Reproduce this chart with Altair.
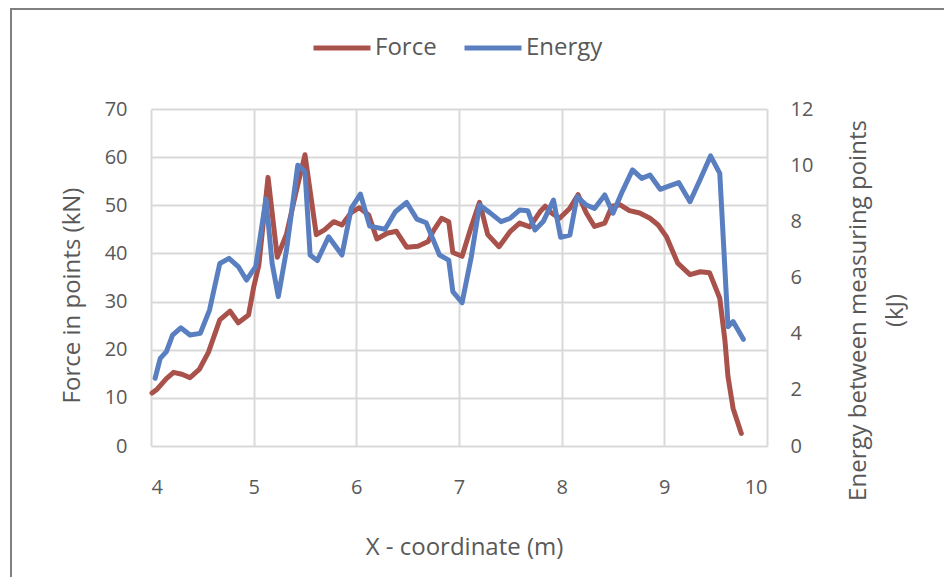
import altair as alt
import pandas as pd

# ---- data ----
series_names = ["Force", "Energy"]
series_colors = ["#A9514B", "#5A7FC1"]

force_x = [4.01, 4.06, 4.15, 4.22, 4.30, 4.38, 4.47, 4.56, 4.67, 4.77, 4.85, 4.95,
           5.00, 5.05, 5.14, 5.23, 5.32, 5.41, 5.50, 5.61, 5.69, 5.78, 5.86, 5.95,
           6.03, 6.12, 6.20, 6.30, 6.39, 6.49, 6.60, 6.70, 6.75, 6.83, 6.90, 6.94,
           7.03, 7.12, 7.20, 7.28, 7.39, 7.50, 7.59, 7.69, 7.79, 7.84, 7.90, 7.98,
           8.08, 8.16, 8.24, 8.32, 8.42, 8.49, 8.57, 8.66, 8.76, 8.86, 8.94, 9.02,
           9.13, 9.25, 9.35, 9.44, 9.54, 9.59, 9.62, 9.67, 9.75]
force_kn = [11.0, 11.8, 14.0, 15.3, 14.9, 14.2, 15.9, 19.5, 26.2, 28.0, 25.6, 27.2,
            33.0, 37.5, 55.8, 39.2, 44.0, 52.5, 60.5, 43.9, 44.9, 46.6, 45.9, 48.5,
            49.5, 48.0, 43.0, 44.2, 44.6, 41.3, 41.5, 42.5, 44.7, 47.3, 46.6, 40.2,
            39.4, 45.6, 50.6, 43.9, 41.4, 44.6, 46.3, 45.5, 48.7, 49.8, 48.4, 47.3,
            49.4, 52.2, 48.4, 45.6, 46.3, 49.8, 50.1, 48.9, 48.4, 47.3, 45.9, 43.5,
            38.0, 35.6, 36.2, 36.0, 30.7, 22.0, 14.4, 7.8, 2.6]

energy_x = [4.04, 4.09, 4.15, 4.21, 4.29, 4.38, 4.48, 4.57, 4.67, 4.76, 4.85, 4.93,
            5.02, 5.12, 5.18, 5.24, 5.32, 5.43, 5.50, 5.55, 5.62, 5.73, 5.86, 5.95,
            6.04, 6.13, 6.28, 6.38, 6.49, 6.59, 6.68, 6.81, 6.90, 6.94, 7.03, 7.12,
            7.20, 7.30, 7.41, 7.50, 7.59, 7.67, 7.74, 7.82, 7.92, 7.99, 8.08, 8.15,
            8.24, 8.32, 8.42, 8.50, 8.59, 8.69, 8.78, 8.86, 8.96, 9.05, 9.14, 9.25,
            9.35, 9.45, 9.54, 9.62, 9.67, 9.77]
energy_kj = [2.41, 3.12, 3.36, 3.95, 4.21, 3.95, 4.01, 4.84, 6.50, 6.68, 6.39, 5.91,
             6.39, 8.80, 6.50, 5.32, 6.98, 10.0, 9.77, 6.80, 6.60, 7.45, 6.80, 8.46,
             8.97, 7.83, 7.72, 8.34, 8.67, 8.08, 7.95, 6.80, 6.62, 5.50, 5.10, 6.74,
             8.58, 8.31, 7.99, 8.11, 8.40, 8.38, 7.69, 7.99, 8.76, 7.43, 7.51, 8.88,
             8.58, 8.46, 8.94, 8.29, 9.06, 9.83, 9.53, 9.65, 9.14, 9.26, 9.38, 8.70,
             9.50, 10.33, 9.71, 4.25, 4.43, 3.80]

x_ticks = [4, 5, 6, 7, 8, 9, 10]
force_ticks = [0, 10, 20, 30, 40, 50, 60, 70]
energy_ticks = [0, 2, 4, 6, 8, 10, 12]

df = pd.DataFrame({
    "x": force_x + energy_x,
    "value": force_kn + energy_kj,
    "series": ["Force"] * len(force_x) + ["Energy"] * len(energy_x),
})

GRAY = "#595959"
FONT = "Open Sans"

color = alt.Color(
    "series:N",
    scale=alt.Scale(domain=series_names, range=series_colors),
    legend=alt.Legend(
        title=None, orient="none", legendX=160, legendY=-92,
        direction="horizontal", symbolType="stroke", symbolStrokeWidth=5,
        symbolSize=3249, labelFontSize=24, labelFont=FONT, labelColor=GRAY,
        labelOffset=2, columnPadding=17, padding=0,
    ),
)

xenc = alt.X(
    "x:Q",
    scale=alt.Scale(domain=[4, 10], nice=False, zero=False),
    axis=alt.Axis(
        values=x_ticks, title="X - coordinate (m)", grid=True,
        labelPadding=31, titleX=313, titleY=101, titleBaseline="middle",
        titleAlign="center",
    ),
)

base = alt.Chart(df)

force = base.transform_filter(alt.datum.series == "Force").mark_line(
    strokeWidth=5, strokeCap="round", strokeJoin="round"
).encode(
    x=xenc,
    y=alt.Y(
        "value:Q",
        scale=alt.Scale(domain=[0, 70], nice=False),
        axis=alt.Axis(
            orient="left", values=force_ticks, title="Force in points (kN)",
            grid=True, labelPadding=24, titleAngle=270, titleX=-79, titleY=186,
            titleBaseline="middle", titleAlign="center",
        ),
    ),
    color=color,
)

energy = base.transform_filter(alt.datum.series == "Energy").mark_line(
    strokeWidth=5, strokeCap="round", strokeJoin="round"
).encode(
    x=xenc,
    y=alt.Y(
        "value:Q",
        scale=alt.Scale(domain=[0, 12], nice=False),
        axis=alt.Axis(
            orient="right", values=energy_ticks,
            title=["Energy between measuring points", "(kJ)"],
            grid=False, labelPadding=23, titleAngle=270, titleX=91, titleY=201,
            titleBaseline="middle", titleAlign="center", titleLineHeight=37,
        ),
    ),
    color=color,
)

frame = alt.Data(values=[{}])
border_left = alt.Chart(frame).mark_rule(color="#808080", strokeWidth=2).encode(
    x=alt.value(-140), y=alt.value(-100), y2=alt.value(480)
)
border_top = alt.Chart(frame).mark_rule(color="#808080", strokeWidth=2).encode(
    x=alt.value(-141), x2=alt.value(800), y=alt.value(-100)
)

chart = alt.layer(force, energy, border_left, border_top).resolve_scale(
    y="independent"
).properties(
    width=616, height=337,
    autosize=alt.AutoSizeParams(type="none"),
    padding={"left": 143, "top": 101, "right": 177, "bottom": 131},
    background="white",
).configure_view(
    stroke=None
).configure_axis(
    domain=False, ticks=False, gridColor="#d9d9d9", gridWidth=2,
    labelFont=FONT, labelFontSize=20, labelColor=GRAY,
    titleFont=FONT, titleFontSize=24, titleColor=GRAY, titleFontWeight="normal",
)

chart.save("out.html", embed_options={"renderer": "svg", "actions": False})
